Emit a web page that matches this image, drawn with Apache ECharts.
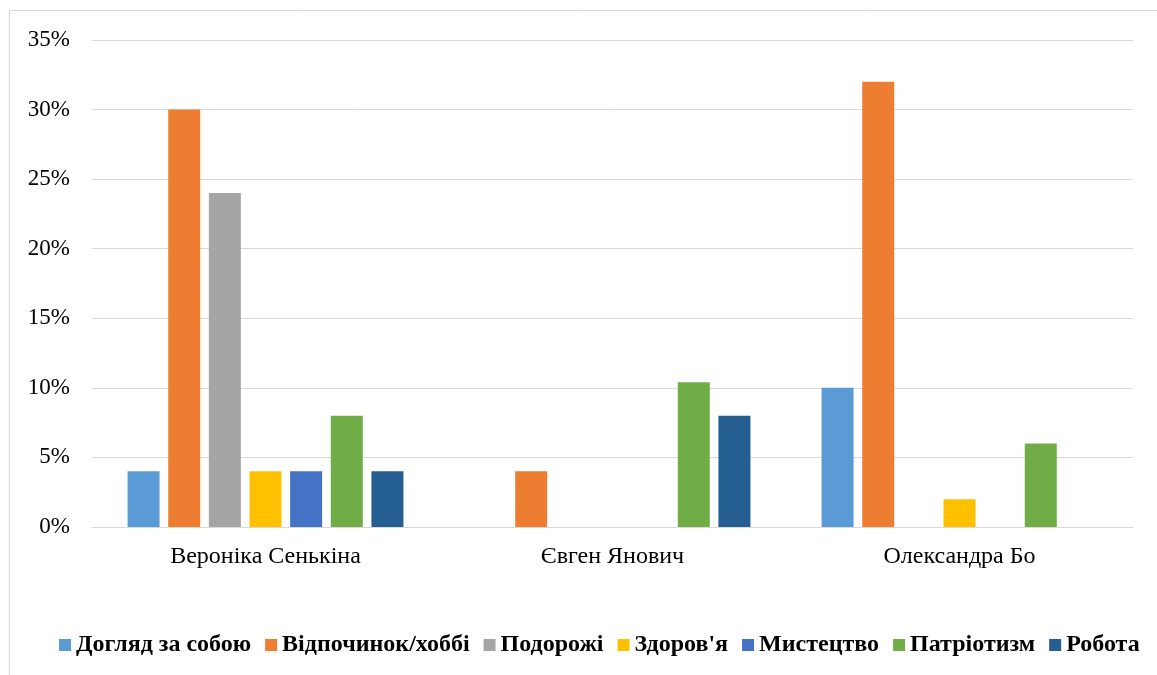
<!DOCTYPE html>
<html>
<head>
<meta charset="utf-8">
<script src="https://cdn.jsdelivr.net/npm/echarts@6/dist/echarts.min.js"></script>
<style>
html,body{margin:0;padding:0;background:#fff;}
#c{width:1157px;height:675px;}
</style>
</head>
<body>
<div id="c"></div>
<script>
const categories = ['Вероніка Сенькіна', 'Євген Янович', 'Олександра Бо'];
const seriesNames = ['Догляд за собою', 'Відпочинок/хоббі', 'Подорожі', "Здоров'я", 'Мистецтво', 'Патріотизм', 'Робота'];
const dogliad = [4, 0, 10];
const vidpochynok = [30, 4, 32];
const podorozhi = [24, 0, 0];
const zdorovia = [4, 0, 2];
const mystetstvo = [4, 0, 0];
const patriotyzm = [8, 10.4, 6];
const robota = [4, 8, 0];
const yTicks = [0, 5, 10, 15, 20, 25, 30, 35];

const values = [dogliad, vidpochynok, podorozhi, zdorovia, mystetstvo, patriotyzm, robota];
const colors = ['#5B9BD5', '#ED7D31', '#A5A5A5', '#FFC000', '#4472C4', '#70AD47', '#255E91'];
const font = '"Liberation Serif", "Times New Roman", serif';

const chart = echarts.init(document.getElementById('c'), null, {renderer: 'canvas'});
chart.setOption({
  animation: false,
  backgroundColor: '#fff',
  color: colors,
  graphic: [{
    type: 'rect',
    shape: {x: 9.5, y: 10.5, width: 1200, height: 700},
    style: {fill: 'none', stroke: '#d9d9d9', lineWidth: 1},
    silent: true
  }],
  grid: {left: 92, right: 24, top: 40, bottom: 148, containLabel: false},
  legend: {
    bottom: 13,
    left: 54,
    itemWidth: 12,
    itemHeight: 12,
    itemGap: 14,
    icon: 'rect',
    textStyle: {fontFamily: font, fontWeight: 'bold', fontSize: 24, color: '#000', padding: [0, 0, 0, 0]},
    data: seriesNames
  },
  xAxis: {
    type: 'category',
    data: categories,
    axisLine: {lineStyle: {color: '#d9d9d9', width: 1}},
    axisTick: {show: false},
    axisLabel: {fontFamily: font, fontSize: 24, color: '#000', margin: 18}
  },
  yAxis: {
    type: 'value',
    min: yTicks[0],
    max: yTicks[yTicks.length - 1],
    interval: 5,
    axisLine: {show: false},
    axisTick: {show: false},
    splitLine: {lineStyle: {color: '#d9d9d9', width: 1}},
    axisLabel: {fontFamily: font, fontSize: 23, color: '#000', margin: 22, formatter: v => v + '%'}
  },
  series: seriesNames.map((name, i) => ({
    name: name,
    type: 'bar',
    data: values[i],
    barWidth: 32,
    barGap: '27%',
    itemStyle: {color: colors[i]}
  }))
});
</script>
</body>
</html>
